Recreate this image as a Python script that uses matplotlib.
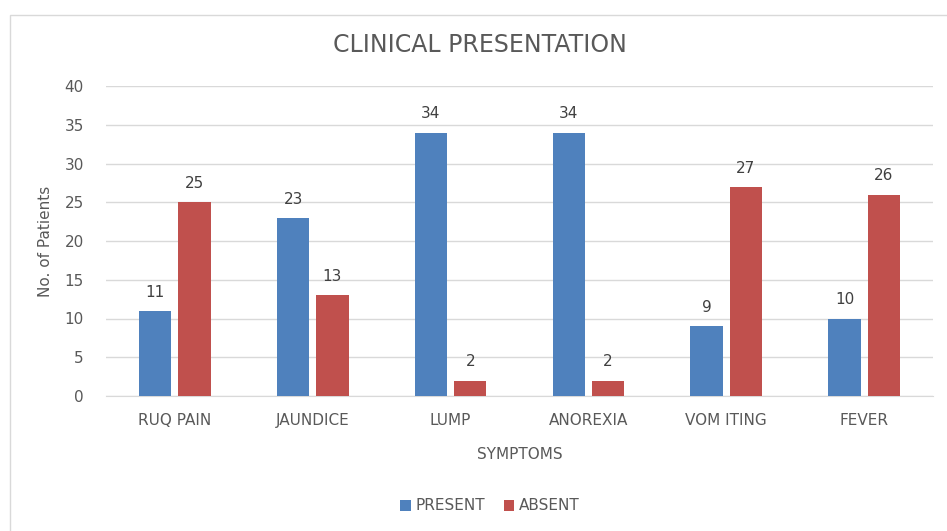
import matplotlib
matplotlib.use("Agg")
import matplotlib.pyplot as plt
import numpy as np
from matplotlib.patches import Rectangle

categories = ["RUQ PAIN", "JAUNDICE", "LUMP", "ANOREXIA", "VOM ITING", "FEVER"]
present = [11, 23, 34, 34, 9, 10]
absent = [25, 13, 2, 2, 27, 26]
series_names = ["PRESENT", "ABSENT"]
yticks = [0, 5, 10, 15, 20, 25, 30, 35, 40]

FONT = ["Liberation Sans Narrow", "DejaVu Sans Condensed", "DejaVu Sans"]
plt.rcParams['font.family'] = FONT
TXT = "#595959"
BLUE = "#4F81BD"
RED = "#C0504D"

fig = plt.figure(figsize=(9.47, 5.31), dpi=100)
W, H = 947, 531
ax = fig.add_axes([106 / W, 1 - 396 / H, (933 - 106) / W, (396 - 86) / H])

x = np.arange(len(categories))
bw = 0.235
gap = 0.05
off = (bw + gap) / 2
b1 = ax.bar(x - off, present, bw, color=BLUE, label=series_names[0], zorder=3)
b2 = ax.bar(x + off, absent, bw, color=RED, label=series_names[1], zorder=3)

for bars, vals in ((b1, present), (b2, absent)):
    for rect, v in zip(bars, vals):
        ax.annotate(str(v), (rect.get_x() + rect.get_width() / 2, v),
                    xytext=(0, 8), textcoords="offset points",
                    ha="center", va="bottom", fontsize=11, color="#404040")

ax.set_xlim(-0.5, len(categories) - 0.5)
ax.set_ylim(0, 40)
ax.set_yticks(yticks)
ax.set_xticks(x)
ax.set_xticklabels(categories)
ax.yaxis.grid(True, color="#D9D9D9", linewidth=1, zorder=0)
ax.set_axisbelow(True)
for s in ["top", "right", "left"]:
    ax.spines[s].set_visible(False)
ax.spines["bottom"].set_color("#D9D9D9")
ax.tick_params(axis="both", length=0, labelsize=11, labelcolor=TXT)
ax.tick_params(axis="x", pad=12)
ax.tick_params(axis="y", pad=16)

ax.set_xlabel("SYMPTOMS", fontsize=11, color=TXT, labelpad=14)
ax.set_ylabel("No. of Patients", fontsize=11, color=TXT, labelpad=8)

fig.text(480 / W, 1 - 45 / H, "CLINICAL PRESENTATION", ha="center", va="center",
         fontsize=17, color=TXT)

leg = fig.legend(handles=[b1, b2], labels=series_names, loc="center",
                 bbox_to_anchor=(490 / W, 1 - 506 / H), ncol=2, frameon=False,
                 fontsize=11, handlelength=0.7, handleheight=0.7, handletextpad=0.3,
                 columnspacing=1.2)
for t in leg.get_texts():
    t.set_color(TXT)

fig.patches.append(Rectangle((10 / W, -0.1), 1.5, 1.1 - 15 / H, transform=fig.transFigure,
                             fill=False, edgecolor="#D9D9D9", linewidth=1))

fig.savefig("out.png", dpi=100)
